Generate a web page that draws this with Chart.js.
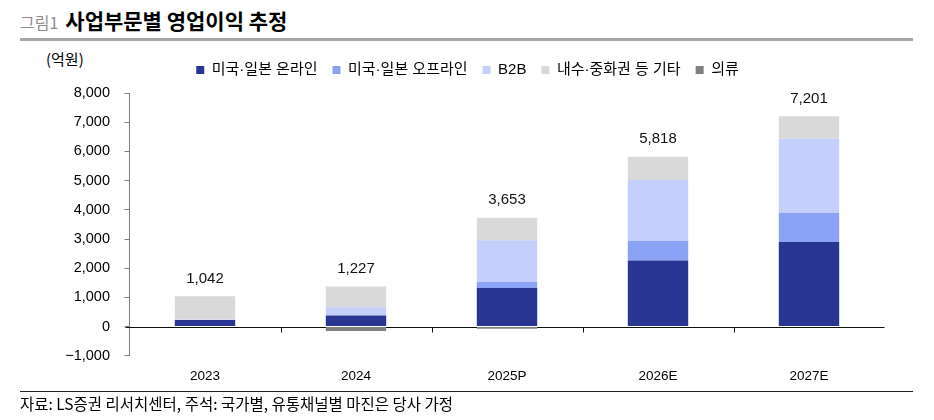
<!DOCTYPE html>
<html><head><meta charset="utf-8">
<script src="https://cdn.jsdelivr.net/npm/chart.js@4/dist/chart.umd.min.js"></script>
<style>
html,body{margin:0;padding:0;background:#fff;}
#wrap{position:relative;width:934px;height:420px;overflow:hidden;font-family:"Liberation Sans","Noto Sans CJK KR",sans-serif;}
#cv{position:absolute;left:0;top:0;}
.t1{position:absolute;left:20px;top:7px;white-space:nowrap;line-height:26px;}
.t1 .fig{color:#8c8c8c;font-size:16px;font-family:"Noto Sans CJK KR",sans-serif;}
.t1 .main{color:#000;font-size:21px;font-weight:bold;font-family:"Noto Sans CJK KR",sans-serif;margin-left:7px;}
.rule{position:absolute;left:20px;width:893px;top:38px;height:3px;background:#a6a6a6;}
.unit{position:absolute;left:46px;top:50px;line-height:18px;font-size:15px;font-family:"Noto Sans CJK KR",sans-serif;color:#000;}
.bline{position:absolute;left:20px;width:893px;top:391px;height:1px;background:#222;}
.src{position:absolute;left:20px;top:394px;line-height:18px;font-size:15.5px;font-family:"Noto Sans CJK KR",sans-serif;color:#000;white-space:nowrap;}
</style></head>
<body><div id="wrap">
<div class="t1"><span class="fig">그림1</span><span class="main">사업부문별 영업이익 추정</span></div>
<div class="rule"></div>
<div class="unit">(억원)</div>
<canvas id="cv" width="934" height="420"></canvas>
<div class="bline"></div>
<div class="src">자료: LS증권 리서치센터, 주석: 국가별, 유통채널별 마진은 당사 가정</div>
</div>
<script>
const categories = ["2023", "2024", "2025P", "2026E", "2027E"];
const seriesNames = ["미국·일본 온라인", "미국·일본 오프라인", "B2B", "내수·중화권 등 기타", "의류"];
const online  = [230, 380, 1318, 2260, 2900];
const offline = [0, 0, 206, 680, 1000];
const b2b     = [10, 280, 1436, 2080, 2540];
const other   = [802, 717, 768, 798, 761];
const apparel = [0, -150, -75, 0, 0];
const totals  = [1042, 1227, 3653, 5818, 7201];
const yTicks  = [-1000, 0, 1000, 2000, 3000, 4000, 5000, 6000, 7000, 8000];

const colors = ["#283593", "#8ba3f4", "#c4cffb", "#d9d9d9", "#808080"];
const seriesData = [online, offline, b2b, other, apparel];

const fmt = v => (v < 0 ? "\u2212" : "") + Math.abs(v).toLocaleString("en-US");

const totalsPlugin = {
  id: "totals",
  afterDatasetsDraw(chart) {
    const ctx = chart.ctx, xs = chart.scales.x, ys = chart.scales.y;
    ctx.save();
    ctx.font = "15px 'Liberation Sans', sans-serif";
    ctx.fillStyle = "#111";
    ctx.textAlign = "center";
    ctx.textBaseline = "bottom";
    categories.forEach((c, i) => {
      let pos = 0;
      seriesData.forEach(s => { if (s[i] > 0) pos += s[i]; });
      ctx.fillText(fmt(totals[i]), xs.getPixelForValue(i), ys.getPixelForValue(pos) - 10);
    });
    ctx.restore();
  }
};

const zeroTicksPlugin = {
  id: "zeroTicks",
  beforeDatasetsDraw(chart) {
    const ctx = chart.ctx, xs = chart.scales.x, ys = chart.scales.y;
    const y0 = Math.round(ys.getPixelForValue(0)) + 0.5;
    ctx.save();
    ctx.strokeStyle = "#111";
    ctx.lineWidth = 1;
    ctx.beginPath();
    ctx.moveTo(chart.chartArea.left - 4, y0);
    ctx.lineTo(chart.chartArea.right, y0);
    for (let i = 0; i < categories.length - 1; i++) {
      const xb = Math.round((xs.getPixelForValue(i) + xs.getPixelForValue(i + 1)) / 2) + 0.5;
      ctx.moveTo(xb, y0);
      ctx.lineTo(xb, y0 + 5);
    }
    ctx.stroke();
    ctx.restore();
  }
};

new Chart(document.getElementById("cv"), {
  type: "bar",
  data: {
    labels: categories,
    datasets: seriesData.map((d, i) => ({
      label: seriesNames[i],
      data: d,
      backgroundColor: colors[i],
      borderWidth: 0,
      categoryPercentage: 0.8,
      barPercentage: 0.5
    }))
  },
  options: {
    responsive: false,
    animation: false,
    devicePixelRatio: 1,
    layout: { padding: { top: 47.5, left: 50.5, right: 49.5, bottom: 24 } },
    plugins: {
      tooltip: { enabled: false },
      legend: {
        position: "top",
        weight: 1000,
        labels: {
          boxWidth: 8, boxHeight: 8, padding: 15, color: "#000",
          font: { size: 15, family: "'Liberation Sans','Noto Sans CJK KR',sans-serif" }
        }
      },
      title: {
        display: true,
        text: "",
        position: "top",
        weight: 0,
        font: { size: 1, lineHeight: 1 },
        padding: { top: 0, bottom: 4.5 }
      }
    },
    scales: {
      x: {
        stacked: true,
        grid: { display: false, drawTicks: false },
        border: { display: false },
        ticks: { color: "#000", padding: 12, font: { size: 13.5, family: "'Liberation Sans',sans-serif" } }
      },
      y: {
        stacked: true,
        min: -1000, max: 8000,
        afterBuildTicks(scale) { scale.ticks = yTicks.map(v => ({ value: v })); },
        afterFit(scale) { scale.width = 79; },
        grid: { drawOnChartArea: false, tickLength: 5, tickColor: "#808080" },
        border: { display: true, color: "#808080", width: 1 },
        ticks: { color: "#000", padding: 14.5, callback: v => fmt(v), font: { size: 14.5, family: "'Liberation Sans',sans-serif" } }
      }
    }
  },
  plugins: [totalsPlugin, zeroTicksPlugin]
});
</script>
</body></html>
